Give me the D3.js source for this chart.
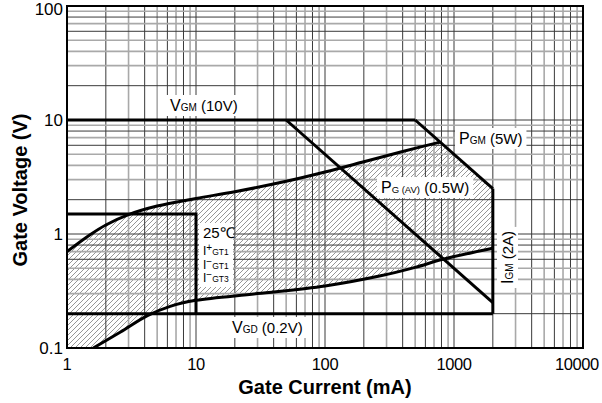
<!DOCTYPE html>
<html>
<head>
<meta charset="utf-8">
<script src="https://cdn.jsdelivr.net/npm/d3@7"></script>
<style>
  body { margin: 0; background: #fff; }
  svg { display: block; font-family: "Liberation Sans", Arial, sans-serif; }
</style>
</head>
<body>
<script>
// tick values
var xTicks = [1, 10, 100, 1000, 10000];
var yTicks = [0.1, 1, 10, 100];

// gate characteristic curves, [mA, V]
var upperCurve = [[1, 0.70], [1.5, 0.98], [2, 1.2], [3, 1.48], [5, 1.76], [10, 2.05],
                  [20, 2.35], [50, 2.9], [100, 3.5], [200, 4.3], [400, 5.3], [780, 6.4]];
var lowerCurve = [[1.6, 0.1], [2.6, 0.138], [4.2, 0.192], [6.3, 0.232], [10, 0.262], [30, 0.30],
                  [100, 0.35], [270, 0.43], [500, 0.51], [820, 0.60], [2000, 0.75]];

// rating limits, [mA, V]
var vgmLine  = [[1, 10], [500, 10]];
var pgmLine  = [[500, 10], [2000, 2.5]];
var pgavLine = [[50, 10], [2000, 0.25]];
var igmLine  = [[2000, 2.5], [2000, 0.2]];
var vgdLine  = [[1, 0.2], [2000, 0.2]];
var igtBox   = [[1, 1.5], [10, 1.5], [10, 0.2]];

window.onload = function() {
  var margin = {top: 6, right: 19, bottom: 55, left: 67};
  var width = 602 - margin.left - margin.right;
  var height = 403 - margin.top - margin.bottom;

  var svg = d3.select("body").append("svg")
      .attr("width", 602)
      .attr("height", 403);

  var defs = svg.append("defs");
  defs.append("clipPath").attr("id", "plotClip")
    .append("rect").attr("width", width).attr("height", height);

  var hatch = defs.append("pattern")
      .attr("id", "hatch")
      .attr("patternUnits", "userSpaceOnUse")
      .attr("width", 5).attr("height", 5);
  hatch.append("path")
      .attr("d", "M0,5L5,0M-1,1L1,-1M4,6L6,4")
      .attr("stroke", "#6a6a6a")
      .attr("stroke-width", 0.7);

  var g = svg.append("g")
      .attr("transform", "translate(" + margin.left + "," + margin.top + ")");

  var xScale = d3.scaleLog().domain([1, 10000]).range([0, width]);
  var yScale = d3.scaleLog().domain([0.1, 100]).range([height, 0]);

  var line = d3.line()
      .x(function(d) { return xScale(d[0]); })
      .y(function(d) { return yScale(d[1]); });
  var smooth = d3.line()
      .x(function(d) { return xScale(d[0]); })
      .y(function(d) { return yScale(d[1]); })
      .curve(d3.curveCatmullRom.alpha(0.5));

  var plot = g.append("g").attr("clip-path", "url(#plotClip)");

  // hatched region between the curves
  var lastUp = pgmLine[1];
  var lowEnd = lowerCurve[lowerCurve.length - 1];
  var area = smooth(upperCurve)
    + "L" + xScale(lastUp[0]) + "," + yScale(lastUp[1])
    + "L" + xScale(lowEnd[0]) + "," + yScale(lowEnd[1])
    + smooth(lowerCurve.slice().reverse()).replace(/^M/, "L")
    + "L" + xScale(1) + "," + yScale(0.1) + "Z";
  plot.append("path").attr("d", area).attr("fill", "url(#hatch)");

  // log grid
  var gridX = [], gridY = [];
  [1, 10, 100, 1000].forEach(function(dec) {
    for (var k = 1; k <= 9; k++) gridX.push({v: dec * k, k: k});
  });
  [0.1, 1, 10].forEach(function(dec) {
    for (var k = 1; k <= 9; k++) gridY.push({v: dec * k, k: k});
  });
  var grayX = function(k) { return k === 3 || k === 5 || k === 7 || k === 9; };
  var grayY = function(k) { return k === 4 || k === 5 || k === 7 || k === 9 || k === 3; };

  plot.selectAll(".gx").data(gridX).enter().append("line")
      .attr("x1", function(d) { return xScale(d.v); })
      .attr("x2", function(d) { return xScale(d.v); })
      .attr("y1", 0).attr("y2", height)
      .attr("stroke", function(d) { return grayX(d.k) ? "#a9a9a9" : "#3a3a3a"; })
      .attr("stroke-width", function(d) { return grayX(d.k) ? 1.6 : 1; });

  plot.selectAll(".gy").data(gridY).enter().append("line")
      .attr("y1", function(d) { return yScale(d.v); })
      .attr("y2", function(d) { return yScale(d.v); })
      .attr("x1", 0).attr("x2", width)
      .attr("stroke", function(d) { return grayY(d.k) ? "#a9a9a9" : "#3a3a3a"; })
      .attr("stroke-width", function(d) { return grayY(d.k) ? 1.6 : 1; });

  // thick curves
  [upperCurve, lowerCurve].forEach(function(c) {
    plot.append("path").datum(c).attr("d", smooth)
      .attr("style", "stroke:#000;fill:none;stroke-width:3px;");
  });
  [vgmLine, pgmLine, pgavLine, igmLine, vgdLine, igtBox].forEach(function(c) {
    plot.append("path").datum(c).attr("d", line)
      .attr("style", "stroke:#000;fill:none;stroke-width:3px;stroke-linejoin:miter;");
  });

  // labels with white boxes
  function label(x, y, parts, rot) {
    var lg = g.append("g").attr("transform", "translate(" + x + "," + y + ")" + (rot ? " rotate(-90)" : ""));
    var box = lg.append("rect").attr("fill", "#fff");
    var t = lg.append("text").attr("x", 0).attr("y", 0);
    parts.forEach(function(p) {
      t.append("tspan").attr("font-size", p[1]).text(p[0]);
    });
    var b = t.node().getBBox();
    box.attr("x", b.x - 4).attr("y", b.y - 2).attr("width", b.width + 8).attr("height", b.height + 4);
    return lg;
  }
  var L = function(px) { return px - margin.left; };
  var T = function(py) { return py - margin.top; };

  label(L(170), T(111), [["V", 16], ["GM", 10], [" (10V)", 15]]);
  label(L(459), T(144), [["P", 16], ["GM", 10], [" (5W)", 15]]);
  label(L(381), T(193), [["P", 16], ["G (AV)", 9.5], [" (0.5W)", 15]]);
  label(L(232), T(333), [["V", 16], ["GD", 10], [" (0.2V)", 15]]);
  label(L(513), T(284), [["I", 16], ["GM", 10], [" (2A)", 15]], true);

  // 25 deg block
  var blk = g.append("g").attr("transform", "translate(" + L(203) + "," + T(238) + ")");
  blk.append("rect").attr("x", -4).attr("y", -15).attr("width", 34).attr("height", 64).attr("fill", "#fff");
  blk.append("text").attr("font-size", 15).text("25℃");
  var igtRows = [["+", "GT1", 17], ["\u2212", "GT1", 30.5], ["\u2212", "GT3", 44]];
  igtRows.forEach(function(r) {
    var t = blk.append("text").attr("y", r[2]);
    t.append("tspan").attr("font-size", 12).text("I");
    t.append("tspan").attr("font-size", 10).attr("dy", -4).text(r[0]);
    t.append("tspan").attr("font-size", 8.5).attr("dy", 4).text(r[1]);
  });

  // frame
  g.append("rect").attr("width", width).attr("height", height)
    .attr("fill", "none").attr("stroke", "#000").attr("stroke-width", 2);

  // tick labels
  g.selectAll(".xl").data(xTicks).enter().append("text")
    .attr("x", function(d) { return xScale(d); })
    .attr("y", T(370))
    .attr("text-anchor", "middle")
    .attr("font-size", 16.5)
    .attr("letter-spacing", -0.4)
    .text(function(d) { return d; })
    .each(function() {
      // keep the last label inside the page
      var b = this.getBBox();
      var over = b.x + b.width - (602 - margin.left - 3);
      if (over > 0) d3.select(this).attr("x", +d3.select(this).attr("x") - over);
    });

  g.selectAll(".yl").data(yTicks).enter().append("text")
    .attr("x", -4)
    .attr("y", function(d) { return Math.max(yScale(d), 3); })
    .attr("dy", "0.36em")
    .attr("text-anchor", "end")
    .attr("font-size", 17)
    .text(function(d) { return d; });

  // axis titles
  svg.append("text")
    .attr("x", 325).attr("y", 394)
    .attr("text-anchor", "middle")
    .attr("font-size", 20).attr("font-weight", "bold")
    .text("Gate Current (mA)");

  svg.append("text")
    .attr("transform", "translate(27,190) rotate(-90)")
    .attr("text-anchor", "middle")
    .attr("font-size", 20).attr("font-weight", "bold")
    .text("Gate Voltage (V)");
};
</script>
</body>
</html>
